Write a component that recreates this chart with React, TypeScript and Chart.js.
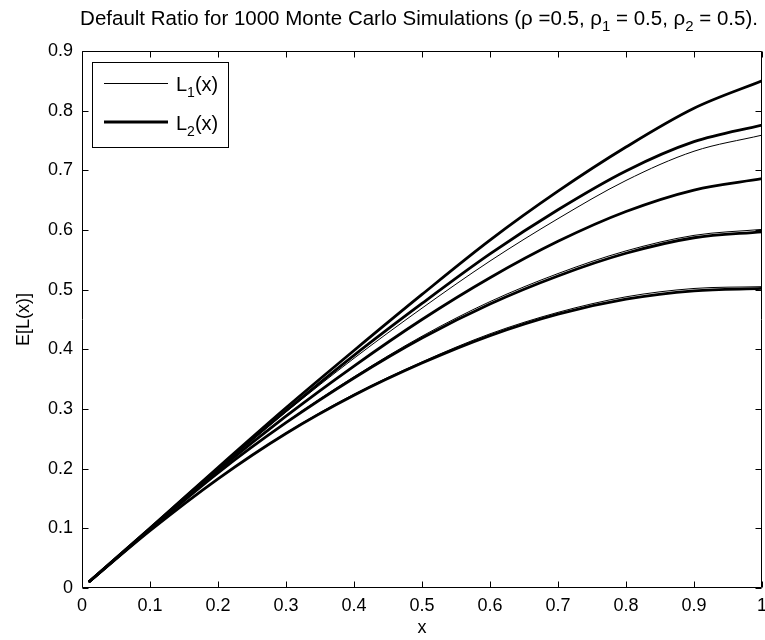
import React, { useEffect, useRef } from "react";
import { Chart, registerables } from "chart.js";

Chart.register(...registerables);

// ---- data ----
const xValues = [0.01, 0.1, 0.2, 0.3, 0.4, 0.5, 0.6, 0.7, 0.8, 0.9, 1.0];
const xTickLabels = ["0", "0.1", "0.2", "0.3", "0.4", "0.5", "0.6", "0.7", "0.8", "0.9", "1"];
const yTickLabels = ["0", "0.1", "0.2", "0.3", "0.4", "0.5", "0.6", "0.7", "0.8", "0.9"];

// L1(x) curves (thin)
const l1CurveA = [0.01, 0.100, 0.202, 0.302, 0.398, 0.492, 0.583, 0.665, 0.739, 0.804, 0.850];
const l1CurveB = [0.01, 0.100, 0.199, 0.295, 0.385, 0.469, 0.548, 0.619, 0.683, 0.732, 0.759];
const l1CurveC = [0.01, 0.099, 0.197, 0.288, 0.372, 0.450, 0.520, 0.581, 0.631, 0.667, 0.686];
const l1CurveD = [0.01, 0.098, 0.193, 0.278, 0.354, 0.422, 0.480, 0.527, 0.565, 0.591, 0.601];
const l1CurveE = [0.01, 0.096, 0.183, 0.260, 0.325, 0.379, 0.426, 0.462, 0.488, 0.502, 0.505];

// L2(x) curves (thick)
const l2CurveA = [0.01, 0.100, 0.202, 0.302, 0.398, 0.492, 0.583, 0.665, 0.739, 0.804, 0.850];
const l2CurveB = [0.01, 0.100, 0.200, 0.297, 0.390, 0.477, 0.560, 0.634, 0.699, 0.748, 0.776];
const l2CurveC = [0.01, 0.099, 0.197, 0.288, 0.372, 0.450, 0.520, 0.581, 0.631, 0.667, 0.686];
const l2CurveD = [0.01, 0.098, 0.193, 0.277, 0.352, 0.419, 0.476, 0.523, 0.561, 0.587, 0.597];
const l2CurveE = [0.01, 0.096, 0.183, 0.259, 0.323, 0.377, 0.423, 0.459, 0.484, 0.498, 0.502];

const l1Series = [l1CurveA, l1CurveB, l1CurveC, l1CurveD, l1CurveE];
const l2Series = [l2CurveA, l2CurveB, l2CurveC, l2CurveD, l2CurveE];

const titleParts = [
  { t: "Default Ratio for 1000 Monte Carlo Simulations (\u03C1 =0.5, \u03C1" },
  { t: "1", sub: true },
  { t: " = 0.5, \u03C1" },
  { t: "2", sub: true },
  { t: " = 0.5)." },
];
const legendL1 = [{ t: "L" }, { t: "1", sub: true }, { t: "(x)" }];
const legendL2 = [{ t: "L" }, { t: "2", sub: true }, { t: "(x)" }];

const FONT = '"Liberation Sans", Arial, sans-serif';

type Part = { t: string; sub?: boolean };

function drawRich(
  ctx: CanvasRenderingContext2D,
  parts: Part[],
  x: number,
  baseline: number,
  size: number,
  align: "left" | "center"
) {
  const subSize = Math.round(size * 0.72);
  const widths = parts.map((p) => {
    ctx.font = `${p.sub ? subSize : size}px ${FONT}`;
    return ctx.measureText(p.t).width;
  });
  const total = widths.reduce((a, b) => a + b, 0);
  let cx = align === "center" ? x - total / 2 : x;
  ctx.textAlign = "left";
  ctx.textBaseline = "alphabetic";
  parts.forEach((p, i) => {
    ctx.font = `${p.sub ? subSize : size}px ${FONT}`;
    ctx.fillText(p.t, cx, baseline + (p.sub ? Math.round(size * 0.3) : 0));
    cx += widths[i];
  });
}

const framePlugin = {
  id: "matlabFrame",
  afterDraw(chart: any) {
    const { ctx, chartArea } = chart;
    const { left, right, top, bottom } = chartArea;
    const xs = chart.scales.x;
    const ys = chart.scales.y;
    ctx.save();
    ctx.strokeStyle = "#000";
    ctx.fillStyle = "#000";
    ctx.lineWidth = 1;
    const L = Math.round(left) + 0.5;
    const R = Math.round(right) - 0.5;
    const T = Math.round(top) + 0.5;
    const B = Math.round(bottom) - 0.5;
    ctx.beginPath();
    ctx.rect(L, T, R - L, B - T);
    ctx.stroke();
    const tick = 6;
    ctx.beginPath();
    xs.ticks.forEach((t: any) => {
      const px = Math.round(xs.getPixelForValue(t.value)) + 0.5;
      ctx.moveTo(px, B);
      ctx.lineTo(px, B - tick);
      ctx.moveTo(px, T);
      ctx.lineTo(px, T + tick);
    });
    ys.ticks.forEach((t: any) => {
      const py = Math.round(ys.getPixelForValue(t.value)) + 0.5;
      ctx.moveTo(L, py);
      ctx.lineTo(L + tick, py);
      ctx.moveTo(R, py);
      ctx.lineTo(R - tick, py);
    });
    ctx.stroke();

    // legend
    const bx = 92.5, by = 62.5, bw = 136, bh = 85;
    ctx.fillStyle = "#fff";
    ctx.fillRect(bx, by, bw, bh);
    ctx.strokeStyle = "#000";
    ctx.lineWidth = 1;
    ctx.strokeRect(bx, by, bw, bh);
    ctx.beginPath();
    ctx.lineWidth = 1;
    ctx.moveTo(104, 83.5);
    ctx.lineTo(168, 83.5);
    ctx.stroke();
    ctx.beginPath();
    ctx.lineWidth = 3;
    ctx.moveTo(104, 122);
    ctx.lineTo(168, 122);
    ctx.stroke();
    ctx.fillStyle = "#000";
    drawRich(ctx, legendL1, 176, 91, 20, "left");
    drawRich(ctx, legendL2, 176, 130, 20, "left");

    // title
    drawRich(ctx, titleParts, (left + right) / 2 - 3, 25, 20.5, "center");
    ctx.restore();
  },
};

export default function App() {
  const canvasRef = useRef<HTMLCanvasElement | null>(null);

  useEffect(() => {
    const canvas = canvasRef.current;
    if (!canvas) return;

    const thinSets = l1Series.map((s, i) => ({
      label: i === 0 ? "L1(x)" : `L1(x) ${i + 1}`,
      data: xValues.map((x, j) => ({ x, y: s[j] })),
      borderColor: "#000",
      borderWidth: 1,
      pointRadius: 0,
      fill: false,
      cubicInterpolationMode: "monotone" as const,
    }));
    const thickSets = l2Series.map((s, i) => ({
      label: i === 0 ? "L2(x)" : `L2(x) ${i + 1}`,
      data: xValues.map((x, j) => ({ x, y: s[j] })),
      borderColor: "#000",
      borderWidth: 2.8,
      pointRadius: 0,
      fill: false,
      cubicInterpolationMode: "monotone" as const,
    }));

    const chart = new Chart(canvas, {
      type: "line",
      data: { datasets: [...thinSets, ...thickSets] as any },
      plugins: [framePlugin],
      options: {
        animation: false,
        responsive: false,
        maintainAspectRatio: false,
        layout: { padding: { top: 51, right: 3, bottom: 0, left: 0 } },
        plugins: {
          legend: { display: false },
          title: { display: false },
          tooltip: { enabled: false },
        },
        scales: {
          x: {
            type: "linear",
            min: 0,
            max: 1,
            grid: { display: false, drawTicks: false },
            border: { display: false },
            ticks: {
              stepSize: 0.1,
              padding: 7,
              color: "#000",
              font: { family: FONT, size: 18 },
              maxRotation: 0,
              autoSkip: false,
              callback: (_v: any, i: number) => xTickLabels[i],
            },
            title: {
              display: true,
              text: "x",
              color: "#000",
              font: { family: FONT, size: 18 },
              padding: { top: 0, bottom: 1 },
            },
            afterFit: (scale: any) => {
              scale.height = 52;
              scale.paddingLeft = 0;
              scale.paddingRight = 0;
            },
          },
          y: {
            type: "linear",
            min: 0,
            max: 0.9,
            grid: { display: false, drawTicks: false },
            border: { display: false },
            ticks: {
              stepSize: 0.1,
              padding: 9,
              color: "#000",
              font: { family: FONT, size: 18 },
              autoSkip: false,
              callback: (_v: any, i: number) => yTickLabels[i],
            },
            title: {
              display: true,
              text: "E[L(x)]",
              color: "#000",
              font: { family: FONT, size: 18 },
              padding: { top: 13, bottom: 0 },
            },
            afterFit: (scale: any) => {
              scale.width = 82;
              scale.paddingTop = 0;
              scale.paddingBottom = 0;
            },
          },
        },
      },
    });
    return () => chart.destroy();
  }, []);

  return (
    <div style={{ position: "absolute", left: 0, top: 0, width: 765, height: 640, background: "#fff" }}>
      <canvas ref={canvasRef} width={765} height={640} style={{ display: "block" }} />
    </div>
  );
}
